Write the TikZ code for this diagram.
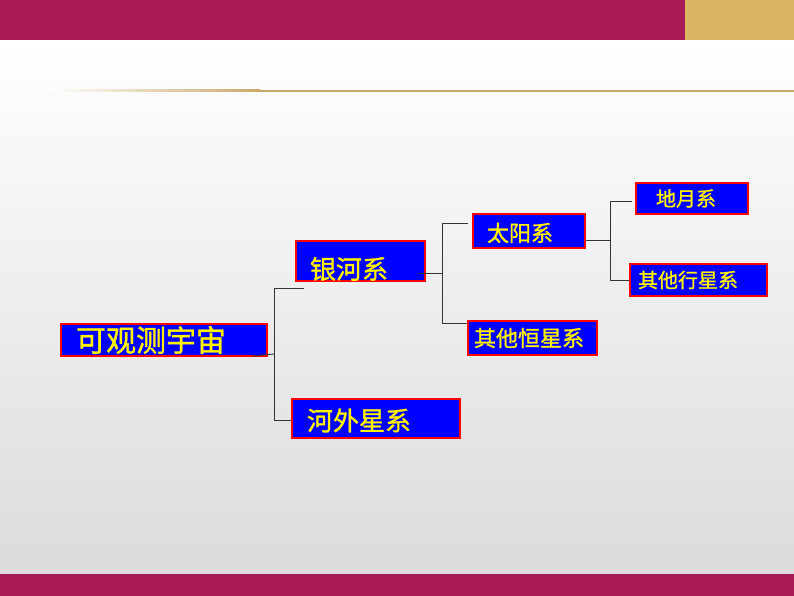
\documentclass[tikz,border=0pt]{standalone}
\usepackage{fontspec}
\newfontfamily\cjk{Noto Sans CJK SC}[FakeBold=1.2]
\definecolor{bandred}{RGB}{169,27,85}
\definecolor{bandgold}{RGB}{217,181,100}
\definecolor{linegold}{RGB}{200,168,105}
\tikzset{
  box/.style={draw=red, fill=blue, line width=2pt, text=yellow, anchor=north west,
    inner ysep=0pt, align=left, font=\cjk\fontsize{#1}{#1}\selectfont},
  link/.style={draw=black!80, line width=0.9pt}
}
\begin{document}
\begin{tikzpicture}[x=1pt,y=-1pt]
  \useasboundingbox (0,0) rectangle (794,596);
  \shade[top color=white, bottom color=black!14] (0,40) rectangle (794,574);
  \fill[bandred] (0,0) rectangle (685,40);
  \fill[bandgold] (685,0) rectangle (794,40);
  \fill[bandred] (0,574) rectangle (794,596);
  \shade[left color=white, right color=linegold] (50,90) rectangle (260,92);
  \fill[linegold] (260,90) rectangle (794,92);

  \node[box=30, minimum width=206, minimum height=32, inner xsep=15pt, text width=176pt] (gcyz) at (60,323) {可观测宇宙};
  \node[box=26, minimum width=129, minimum height=40, inner xsep=14pt, text width=101pt] (yhx) at (295,240) {\raisebox{-8pt}[\height][\depth]{银河系}};
  \node[box=26, minimum width=168, minimum height=39, inner xsep=15pt, text width=138pt] (hwxx) at (291,398) {\raisebox{-2pt}[\height][\depth]{河外星系}};
  \node[box=22, minimum width=112, minimum height=34, inner xsep=14pt, text width=84pt] (tyx) at (472,213) {\raisebox{-2pt}[\height][\depth]{太阳系}};
  \node[box=22, minimum width=129, minimum height=34, inner xsep=6pt, text width=117pt] (qhxx) at (467,320) {其他恒星系};
  \node[box=20, minimum width=112, minimum height=31, inner xsep=20pt, text width=72pt] (dyx) at (635,182) {地月系};
  \node[box=20, minimum width=137, minimum height=32, inner xsep=8pt, text width=121pt] (qxxx) at (629,263) {其他行星系};

  \draw[link] ([xshift=-16pt,yshift=1pt]gcyz.south east) -- (274,354);
  \draw[link] (304,288) -- (274,288) -- (274,420) -- (hwxx.west |- 0,420);

  \draw[link] ([xshift=-7pt]yhx.east |- 0,273) -- (442,273);
  \draw[link] (468,223) -- (442,223) -- (442,323) -- (qhxx.west |- 0,323);

  \draw[link] (tyx.east |- 0,240) -- (610,240);
  \draw[link] (632,201) -- (610,201) -- (610,280) -- (qxxx.west |- 0,280);
\end{tikzpicture}
\end{document}
